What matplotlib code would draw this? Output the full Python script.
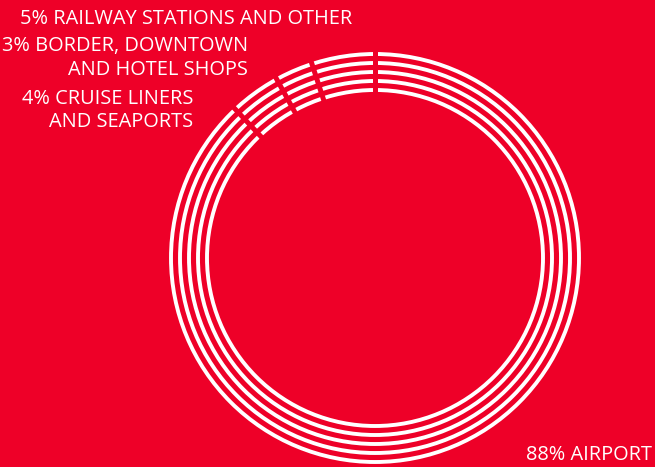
import numpy as np
import matplotlib
matplotlib.use("Agg")
import matplotlib.pyplot as plt
from matplotlib.patches import Circle

categories = ["RAILWAY STATIONS AND OTHER", "BORDER, DOWNTOWN AND HOTEL SHOPS",
              "CRUISE LINERS AND SEAPORTS", "AIRPORT"]
shares = [5, 3, 4, 88]
labels = [["5% RAILWAY STATIONS AND OTHER"],
          ["3% BORDER, DOWNTOWN", "AND HOTEL SHOPS"],
          ["4% CRUISE LINERS", "AND SEAPORTS"],
          ["88% AIRPORT"]]
n_rings = 5

RED = "#EE0028"
W, H = 655, 467
fig = plt.figure(figsize=(W / 100, H / 100), dpi=100, facecolor=RED)
ax = fig.add_axes([0, 0, 1, 1])
ax.set_xlim(0, W)
ax.set_ylim(H, 0)
ax.set_aspect("equal")
ax.axis("off")
ax.set_facecolor(RED)

cx, cy = 375, 258
r_out, r_in = 204, 168
px = 72 / 100  # points per pixel
radii = np.linspace(r_in, r_out, n_rings)
for r in radii:
    ax.add_patch(Circle((cx, cy), r, fill=False, ec="white", lw=3.9 * px))

# gaps between segments (counterclockwise from 12 o'clock)
bounds = 90 + np.concatenate([[0], np.cumsum(shares)[:-1]]) / 100 * 360
for b in bounds:
    t = np.deg2rad(b)
    rr = np.array([r_in - 8, r_out + 8])
    ax.plot(cx + rr * np.cos(t), cy - rr * np.sin(t), color=RED, lw=5 * px,
            solid_capstyle="butt")

fam = ["Open Sans", "DejaVu Sans"]
fs0 = 10
tk = dict(color="white", family=fam, va="baseline", ha="right")
# fit font size so the first line spans the same width as in the reference
probe = ax.text(0, 0, labels[0][0], fontsize=fs0, family=fam)
fig.canvas.draw()
wpx = probe.get_window_extent().width
probe.remove()
fs = fs0 * 332 / wpx

ax.text(352, 24, labels[0][0], fontsize=fs, **tk)
ax.text(248, 51, labels[1][0], fontsize=fs, **tk)
ax.text(248, 75, labels[1][1], fontsize=fs, **tk)
ax.text(193, 104, labels[2][0], fontsize=fs, **tk)
ax.text(193, 127, labels[2][1], fontsize=fs, **tk)
ax.text(652, 460, labels[3][0], fontsize=fs, **tk)

fig.savefig("out.png", dpi=100, facecolor=RED)
